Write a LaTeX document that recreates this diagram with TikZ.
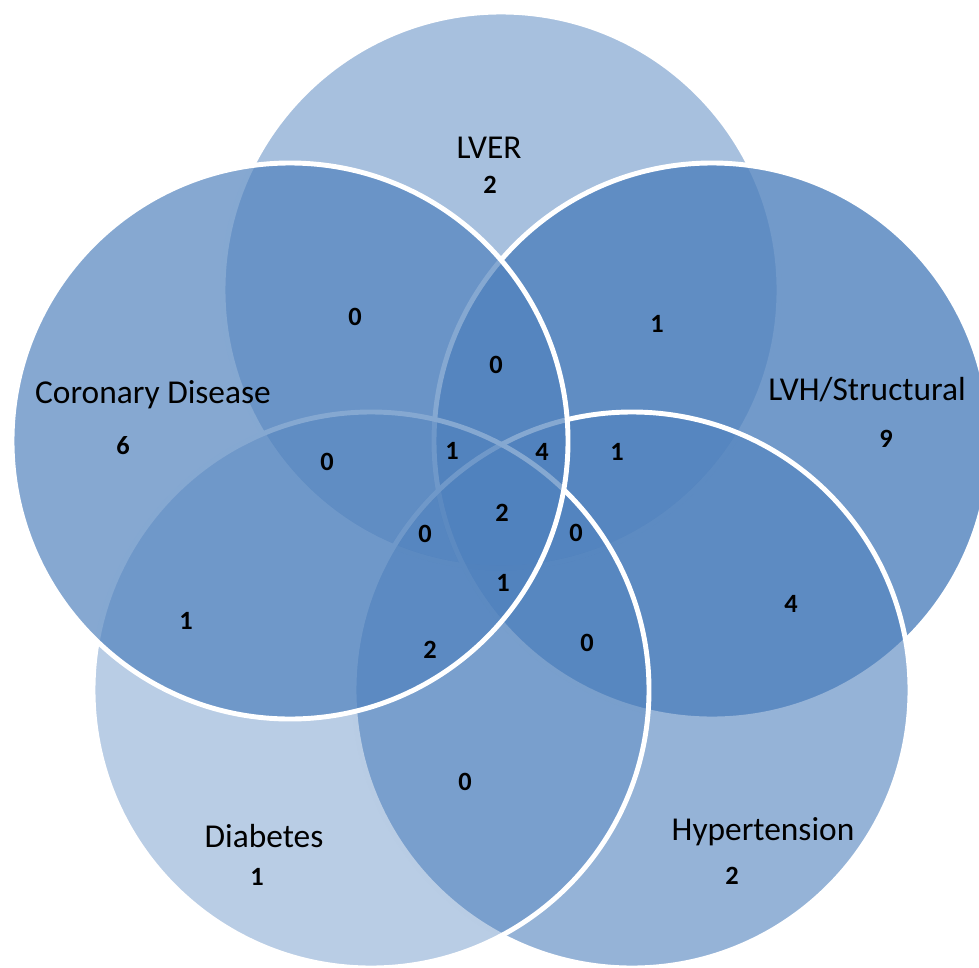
\documentclass[tikz,border=0pt]{standalone}
\usepackage{fontspec}
\setmainfont{Carlito}
\usepackage{xcolor}
\usepackage{tikz}
\usetikzlibrary{positioning}
\definecolor{vennblue}{HTML}{4F81BD}

\begin{document}
\begin{tikzpicture}[
    x=0.2mm, y=-0.2mm,
    setcircle/.style={circle, draw=white, line width=2.8pt, fill=vennblue, inner sep=0pt, minimum size=111.2mm},
    setname/.style={anchor=base, inner sep=0pt, font=\fontsize{19}{22}\selectfont},
    count/.style={anchor=base, inner sep=0pt, font=\fontsize{15}{18}\selectfont\bfseries}
]
    \useasboundingbox (0,0) rectangle (979,967);
    \clip (0,0) rectangle (979,967);

    % Sets
    \node[setcircle, fill opacity=0.5] (lver) at (501,290) {};
    \node[setcircle, fill opacity=0.8] (lvh) at (712,441) {};
    \node[setcircle, fill opacity=0.6] (hyper) at (632,690) {};
    \node[setcircle, fill opacity=0.4] (diab) at (371,690) {};
    \node[setcircle, fill opacity=0.69] (coron) at (290,441) {};

    % Set names
    \node[setname] (lvername) at (489,158) {LVER};
    \node[setname] (coronname) at (153,403) {Coronary Disease};
    \node[setname] (lvhname) at (867,400) {LVH/Structural};
    \node[setname] (diabname) at (264,847) {Diabetes};
    \node[setname] (hypername) at (763,840) {Hypertension};

    % Only one set
    \node[count] (v) at (490,193) {2};
    \node[count] (c) at (123,454) {6};
    \node[count] (s) at (886,447) {9};
    \node[count] (d) at (257,885) {1};
    \node[count] (h) at (732,884) {2};

    % Two sets
    \node[count] (cv) at (355,325) {0};
    \node[count] (sv) at (657,332) {1};
    \node[count] (cd) at (186,629) {1};
    \node[count] (hs) at (791,612) {4};
    \node[count] (dh) at (465,790) {0};

    % Three sets
    \node[count] (csv) at (496,373) {0};
    \node[count] (cdv) at (327,470) {0};
    \node[count] (hsv) at (617,460) {1};
    \node[count] (cdh) at (430,658) {2};
    \node[count] (dhs) at (587,651) {0};

    % Four sets
    \node[count] (cdsv) at (452,459) {1};
    \node[count] (chsv) at (542,460) {4};
    \node[count] (cdhv) at (425,542) {0};
    \node[count] (dhsv) at (576,541) {0};
    \node[count] (cdhs) at (503,591) {1};

    % All five
    \node[count] (all) at (502,521) {2};
\end{tikzpicture}
\end{document}
